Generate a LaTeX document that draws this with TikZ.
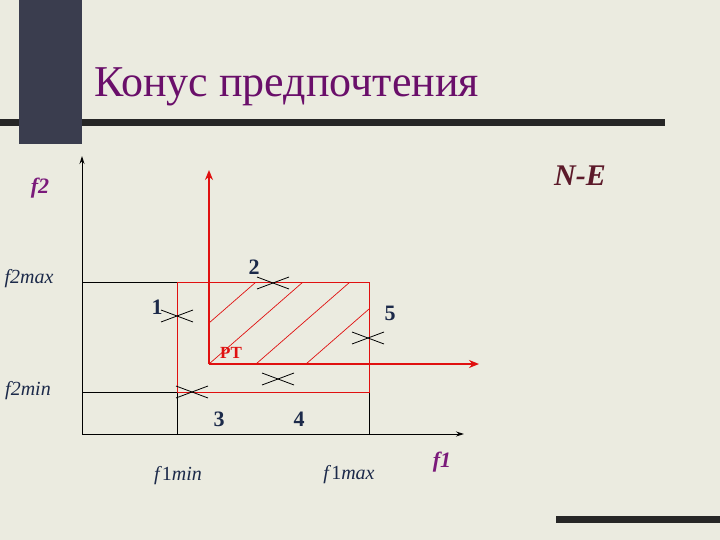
\documentclass[tikz,border=0pt]{standalone}
\usepackage{fontspec}
\setmainfont{Liberation Serif}
\usetikzlibrary{arrows.meta}
\definecolor{bgc}{HTML}{EBEBE0}
\definecolor{barc}{HTML}{3A3D4E}
\definecolor{titlec}{HTML}{6A0F6A}
\definecolor{numc}{HTML}{1C2A4A}
\definecolor{fc}{HTML}{7A1A7A}
\definecolor{nec}{HTML}{5C1A2A}
\definecolor{redc}{HTML}{E01010}
\begin{document}
\begin{tikzpicture}[x=1pt,y=-1pt,
  axis/.style={line width=1pt,-{Stealth[length=8pt,width=5pt]}},
  raxis/.style={redc,line width=2.4pt,-{Stealth[length=10pt,width=8pt]}},
  blk/.style={line width=0.9pt},
  redline/.style={redc,line width=1pt},
  hatch/.style={redc,line width=0.7pt},
  crossln/.style={line width=0.8pt},
  num/.style={font=\fontsize{22}{22}\selectfont\bfseries,text=numc,inner sep=0pt},
  lbl/.style={font=\fontsize{20}{20}\selectfont\itshape,text=numc,inner sep=0pt},
  flbl/.style={font=\fontsize{22}{22}\selectfont\bfseries\itshape,text=fc,inner sep=0pt}]
\useasboundingbox (0,0) rectangle (720,540);
\fill[bgc] (0,0) rectangle (720,540);
% decorative bars
\fill[barc] (19,0) rectangle (82,144);
\fill[black!85] (0,119) rectangle (665,126);
\fill[barc] (19,119) rectangle (82,126);
\fill[black!85] (556,516) rectangle (720,523);
% title
\node[anchor=base west,inner sep=0pt,text=titlec,font=\fontsize{44}{44}\selectfont] (title) at (94,97) {Конус предпочтения};
% coordinates
\coordinate (O) at (82,434);
\coordinate (Ytip) at (82,156);
\coordinate (Xtip) at (464,434);
\coordinate (A) at (177,282);
\coordinate (B) at (369,282);
\coordinate (C) at (369,392);
\coordinate (D) at (177,392);
\coordinate (Amax) at (82,282);
\coordinate (Dmin) at (82,392);
\coordinate (Dbot) at (177,434);
\coordinate (Cbot) at (369,434);
\coordinate (PT) at (209,364);
\coordinate (PTy) at (209,170);
\coordinate (PTx) at (479,364);
% hatching
\begin{scope}
\clip (209,282) rectangle (369,364);
\foreach \sx/\sy in {209/323, 209/364, 256/364, 306/364}
  \draw[hatch] (\sx,\sy) -- ++(188,-164);
\end{scope}
% black axes and lines
\draw[axis] (O) -- (Ytip);
\draw[axis] (O) -- (Xtip);
\draw[blk] (Amax) -- (A);
\draw[blk] (Dmin) -- (D);
\draw[blk] (D) -- (Dbot);
\draw[blk] (C) -- (Cbot);
% red rectangle
\draw[redline] (A) -- (B) -- (C) -- (D) -- cycle;
% red axes
\draw[raxis] (PT) -- (PTy);
\draw[raxis] (PT) -- (PTx);
% crosses
\foreach \n/\cx/\cy in {c1/177/316, c2/273/283, c5/368/338, c4/278/379, c3/192/392} {
  \coordinate (\n) at (\cx,\cy);
  \draw[crossln] (\n) ++(-16,-6) -- ++(32,12);
  \draw[crossln] (\n) ++(-16,6) -- ++(32,-12);
}
% labels
\node[num] (n2) at (254,267) {2};
\node[num] (n1) at (157,307) {1};
\node[num] (n5) at (390,313) {5};
\node[num] (n3) at (219,419) {3};
\node[num] (n4) at (299,419) {4};
\node[inner sep=0pt,text=redc,font=\fontsize{17}{17}\selectfont\bfseries] (pt) at (231,353) {PT};
\node[flbl] (f2) at (40,188) {f2};
\node[flbl] (f1) at (442,462) {f1};
\node[lbl] (f2max) at (29,279) {f2max};
\node[lbl] (f2min) at (28,391) {f2min};
\node[lbl] (f1min) at (178,476) {f\textup{1}min};
\node[lbl] (f1max) at (349,475) {f\textup{1}max};
\node[inner sep=0pt,text=nec,font=\fontsize{30}{30}\selectfont\bfseries\itshape] (ne) at (580,176) {N-E};
\end{tikzpicture}
\end{document}
